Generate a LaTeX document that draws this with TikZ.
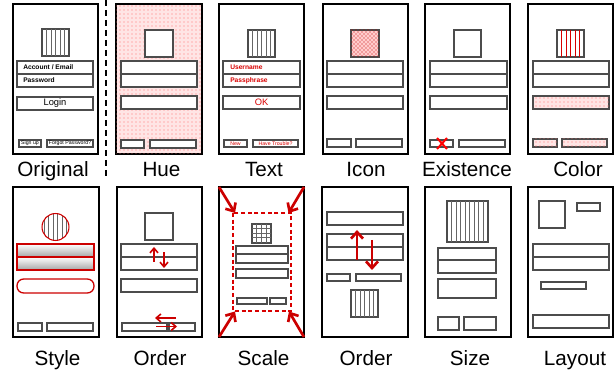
\documentclass[tikz,border=0pt]{standalone}
\usepackage{fontspec}
\setmainfont{Liberation Sans}
\usetikzlibrary{patterns,arrows.meta}

\begin{document}
\begin{tikzpicture}[x=0.75pt,y=-0.75pt,
  screen/.style={draw=black,line width=0.8pt},
  widget/.style={draw=black!70,line width=1.1pt,fill=white},
  stripe/.style={draw=black!60,line width=0.4pt},
  redstripe/.style={draw=red!85!black,line width=0.5pt},
  pinkdots/.style={fill=red!10,postaction={pattern=dots,pattern color=red!55}},
  move/.style={draw=red!80!black,line width=1.2pt,-{Straight Barb[length=3.5pt,width=6pt]}},
  bigmove/.style={move,line width=2pt,-{Straight Barb[length=5pt,width=9pt]}},
  caption/.style={font=\fontsize{15.5}{18}\selectfont,anchor=base},
  tag/.style={font=\bfseries\fontsize{5}{6}\selectfont,anchor=west,inner sep=0pt},
  btntext/.style={font=\fontsize{3.9}{5}\selectfont,inner sep=0pt},
  redtext/.style={text=red!85!black}]
  \useasboundingbox (0,0) rectangle (615,374);

  % separator
  \coordinate (sepTop) at (106,0);
  \coordinate (sepBot) at (106,180);
  \draw[line width=1.5pt,dash pattern=on 4.5pt off 3pt] (sepTop) -- (sepBot);

  % Original
  \draw[screen] (13,4) rectangle (98,154);
  \draw[widget] (42,29) rectangle (69,56);
  \foreach \x in {46.5,51,...,64.6} \draw[stripe] (\x,29) -- (\x,56);
  \draw[widget] (17,61) rectangle (93,74);
  \draw[widget] (17,74) rectangle (93,87);
  \node[tag] (account) at (23,67.5) {Account / Email};
  \node[tag] (password) at (23,80.5) {Password};
  \draw[widget] (17,97) rectangle (93,110);
  \node[font=\fontsize{7}{8}\selectfont] (login) at (55,103.5) {Login};
  \draw[widget] (19,140) rectangle (41,147);
  \draw[widget] (47,140) rectangle (93,147);
  \node[btntext] (signup) at (30,143.5) {Sign up};
  \node[btntext] (forgot) at (70,143.5) {Forgot Password?};
  \node[caption] (cOriginal) at (53,176.5) {Original};

  % Hue
  \draw[screen,pinkdots] (116,4) rectangle (202,154);
  \draw[widget] (145,30) rectangle (173,57);
  \draw[widget] (121,61) rectangle (197,74);
  \draw[widget] (121,74) rectangle (197,87);
  \draw[widget] (121,96) rectangle (197,109);
  \draw[widget] (121,140) rectangle (144,148);
  \draw[widget] (150,140) rectangle (196,148);
  \node[caption] (cHue) at (161.5,176.5) {Hue};

  % Text
  \draw[screen] (219,4) rectangle (304,154);
  \draw[widget] (248,30) rectangle (275,57);
  \foreach \x in {252.5,257,...,270.6} \draw[stripe] (\x,30) -- (\x,57);
  \draw[widget] (223,61) rectangle (300,74);
  \draw[widget] (223,74) rectangle (300,87);
  \node[tag,redtext] (username) at (230,67.5) {Username};
  \node[tag,redtext] (passphrase) at (230,80.5) {Passphrase};
  \draw[widget] (223,96) rectangle (300,109);
  \node[redtext,font=\fontsize{7}{8}\selectfont] (ok) at (261.5,102.5) {OK};
  \draw[widget] (224,140) rectangle (247,147);
  \draw[widget] (253,140) rectangle (298,147);
  \node[btntext,redtext] (new) at (235.5,143.5) {New};
  \node[btntext,redtext] (trouble) at (275.5,143.5) {Have Trouble?};
  \node[caption] (cText) at (264,176.5) {Text};

  % Icon
  \draw[screen] (323,4) rectangle (408,154);
  \draw[widget,fill=red!20,postaction={pattern=crosshatch dots,pattern color=red!75!black}] (351,30) rectangle (379,57);
  \draw[widget] (327,61) rectangle (403,74);
  \draw[widget] (327,74) rectangle (403,87);
  \draw[widget] (327,96) rectangle (403,109);
  \draw[widget] (327,139) rectangle (351,147);
  \draw[widget] (356,139) rectangle (402,147);
  \node[caption] (cIcon) at (366,176.5) {Icon};

  % Existence
  \draw[screen] (425,4) rectangle (510,154);
  \draw[widget] (454,30) rectangle (481,57);
  \draw[widget] (430,61) rectangle (507,74);
  \draw[widget] (430,74) rectangle (507,87);
  \draw[widget] (430,96) rectangle (507,109);
  \draw[widget] (430,140) rectangle (453,147);
  \draw[widget] (459,140) rectangle (505,147);
  \draw[red,line width=1.5pt] (437,138) -- (447,149) (437,149) -- (447,138);
  \node[caption] (cExistence) at (467,176.5) {Existence};

  % Color
  \draw[screen] (528,4) rectangle (613,154);
  \draw[widget] (557,30) rectangle (584,57);
  \foreach \x in {561.5,566,...,579.6} \draw[redstripe] (\x,30) -- (\x,57);
  \draw[widget] (533,61) rectangle (609,74);
  \draw[widget] (533,74) rectangle (609,87);
  \draw[widget,pinkdots] (533,96) rectangle (609,109);
  \draw[widget,pinkdots] (533,139) rectangle (557,147);
  \draw[widget,pinkdots] (562,139) rectangle (607,147);
  \node[caption] (cColor) at (578,176.5) {Color};

  % Style
  \draw[screen] (13,187) rectangle (99,337);
  \begin{scope}
    \clip (55.5,227) circle (10.1pt);
    \foreach \x in {44,48.5,...,67.1} \draw[stripe] (\x,212) -- (\x,242);
  \end{scope}
  \draw[red!80!black,line width=0.8pt] (55.5,227) circle (10.1pt);
  \shade[top color=white,bottom color=gray!70] (17,244) rectangle (94,257);
  \shade[top color=white,bottom color=gray!70] (17,257) rectangle (94,270);
  \draw[red!80!black,line width=1pt] (17,244) rectangle (94,270) (17,257) -- (94,257);
  \draw[red!80!black,line width=1pt,rounded corners=5pt] (17,279) rectangle (94,293);
  \draw[widget] (18,323) rectangle (42,331);
  \draw[widget] (47,323) rectangle (93,331);
  \node[caption] (cStyle) at (57.5,365.5) {Style};

  % Order (swaps)
  \draw[screen] (117,187) rectangle (202,337);
  \draw[widget] (145,213) rectangle (173,240);
  \draw[widget] (121,244) rectangle (197,257);
  \draw[widget] (121,257) rectangle (197,270);
  \draw[widget] (121,279) rectangle (197,292);
  \draw[widget] (122,323) rectangle (167,331);
  \draw[widget] (169,323) rectangle (195,331);
  \draw[move] (154,262) -- (154,247);
  \draw[move] (164,252.5) -- (164,268);
  \draw[move] (176,318) -- (155,318);
  \draw[move] (156,326.5) -- (177,326.5);
  \node[caption] (cOrderA) at (160,365.5) {Order};

  % Scale
  \draw[screen] (219,187) rectangle (304,337);
  \draw[red!85!black,line width=0.8pt,dash pattern=on 3pt off 2pt] (233,213) rectangle (291,311);
  \draw[bigmove] (219,187) -- (235,213);
  \draw[bigmove] (304,187) -- (288.5,213);
  \draw[bigmove] (219,337) -- (235,311.5);
  \draw[bigmove] (304,337) -- (289,311.5);
  \draw[widget,line width=0.8pt] (252,224) rectangle (271,243);
  \foreach \t in {256.75,261.5,266.25} {
    \draw[stripe] (\t,224) -- (\t,243);
    \draw[stripe] (252,\t-28.5) -- (271,\t-28.5);
  }
  \draw[widget] (236,246) rectangle (288,254);
  \draw[widget] (236,254) rectangle (288,263);
  \draw[widget] (236,269) rectangle (288,278);
  \draw[widget] (237,298) rectangle (267,304);
  \draw[widget] (270,298) rectangle (286,304);
  \node[caption] (cScale) at (263.5,365.5) {Scale};

  % Order (moves)
  \draw[screen] (322,187) rectangle (408,337);
  \draw[widget] (327,212) rectangle (403,225);
  \draw[widget] (327,234) rectangle (403,247);
  \draw[widget] (327,247) rectangle (403,260);
  \draw[widget] (327,274) rectangle (350,281);
  \draw[widget] (356,274) rectangle (401,281);
  \draw[widget] (351,290) rectangle (378,317);
  \foreach \x in {355.5,360,...,373.6} \draw[stripe] (\x,290) -- (\x,317);
  \draw[bigmove] (357,260) -- (357,230);
  \draw[bigmove] (372,240) -- (372,270);
  \node[caption] (cOrderB) at (366,365.5) {Order};

  % Size
  \draw[screen] (425,187) rectangle (511,337);
  \draw[widget] (447,201) rectangle (488,242);
  \foreach \x in {451.5,456,...,483.6} \draw[stripe] (\x,201) -- (\x,242);
  \draw[widget] (438,248) rectangle (496,260);
  \draw[widget] (438,260) rectangle (496,273);
  \draw[widget] (438,279) rectangle (496,298);
  \draw[widget] (438,317) rectangle (459,330);
  \draw[widget] (464,317) rectangle (496,330);
  \node[caption] (cSize) at (470,365.5) {Size};

  % Layout
  \draw[screen] (528,187) rectangle (613,337);
  \draw[widget] (539,201) rectangle (565,228);
  \draw[widget] (577,203) rectangle (600,211);
  \draw[widget] (533,244) rectangle (609,257);
  \draw[widget] (533,257) rectangle (609,270);
  \draw[widget] (541,282) rectangle (586,289);
  \draw[widget] (533,315) rectangle (609,328);
  \node[caption] (cLayout) at (575,365.5) {Layout};
\end{tikzpicture}
\end{document}
